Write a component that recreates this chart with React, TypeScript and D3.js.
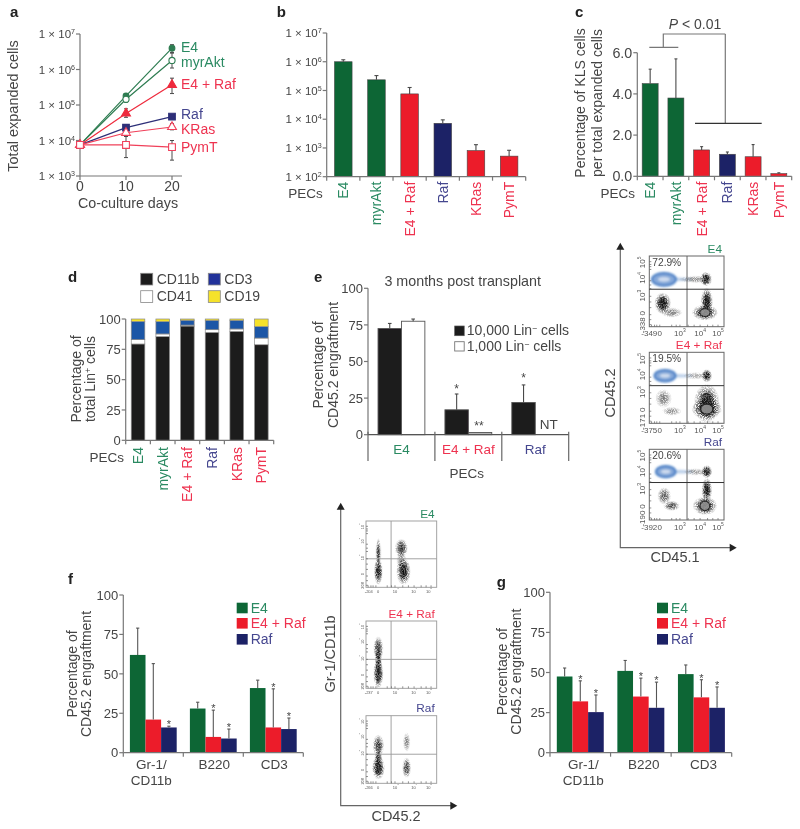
import * as d3 from 'd3'

// ---- data ----
const pecs = ['E4', 'myrAkt', 'E4 + Raf', 'Raf', 'KRas', 'PymT']
const days = [0, 10, 20]

const expandedE4 = [7500, 180000, 4000000]
const expandedAkt = [7500, 145000, 1800000]
const expandedE4Raf = [7500, 58000, 370000]
const expandedRaf = [7500, 23000, 47000]
const expandedKRas = [7500, 16500, 24000]
const expandedPymT = [7500, 7500, 6500]

const expandedLow = [
  [7500, 150000, 3000000],
  [7500, 120000, 1100000],
  [7500, 45000, 210000],
  [7500, 21000, 41000],
  [7500, 13000, 20000],
  [7500, 3300, 2800]
]
const expandedHigh = [
  [7500, 210000, 5000000],
  [7500, 175000, 2900000],
  [7500, 78000, 570000],
  [7500, 26000, 54000],
  [7500, 21000, 30000],
  [7500, 13000, 10000]
]

const totalCells = [1000000, 235000, 76000, 7200, 810, 520]
const totalCellsHigh = [1170000, 330000, 127000, 9500, 1300, 830]

const klsPercent = [4.5, 3.8, 1.28, 1.07, 0.95, 0.13]
const klsHigh = [5.2, 5.7, 1.44, 1.18, 1.54, 0.17]

const lineageKeys = ['CD11b', 'CD41', 'CD3', 'CD19']
const lineageCD11b = [79.4, 85.5, 94.2, 89, 89.8, 78.8]
const lineageCD41 = [3.6, 2.2, 0.8, 2.2, 2, 5.5]
const lineageCD3 = [15, 10.1, 4, 7.7, 7.1, 9.4]
const lineageCD19 = [2, 2.2, 1, 1.1, 1.1, 6.3]

const transplantGroups = ['E4', 'E4 + Raf', 'Raf']
const doseKeys = ['10,000', '1,000']
const dose10000 = [72.5, 17, 22]
const dose10000High = [76, 27.8, 34]
const dose1000 = [77.5, 1.5, null]
const dose1000High = [79, 1.5, null]

const lineageGroups = ['Gr-1/CD11b', 'B220', 'CD3']
const engraftSeries = ['E4', 'E4 + Raf', 'Raf']
const fE4 = [62, 28, 41]
const fE4High = [79, 32, 46]
const fE4Raf = [21, 10, 16]
const fE4RafHigh = [56.5, 27, 40.5]
const fRaf = [16, 9, 15]
const fRafHigh = [16.8, 15, 22]
const fStars = [[false, false, false], [false, true, true], [true, true, true]]

const gE4 = [47.5, 51, 49]
const gE4High = [52.8, 57.5, 54.7]
const gE4Raf = [32, 35, 34.5]
const gE4RafHigh = [44.8, 46.5, 45.5]
const gRaf = [25.3, 28, 28]
const gRafHigh = [36, 44, 41]
const gStars = [[false, false, false], [true, true, true], [true, true, true]]

// flow plot populations: x, y, rx, ry as fractions of the plot box, then darkness
type Blob = [number, number, number, number, number]
const flowE = {
  blue: [0.196, 0.33, 0.16, 0.09],
  blobs: [
    [0.76, 0.325, 0.08, 0.1, 1],
    [0.62, 0.33, 0.22, 0.05, 0.4],
    [0.18, 0.67, 0.11, 0.15, 1],
    [0.3, 0.8, 0.14, 0.07, 0.45],
    [0.77, 0.65, 0.08, 0.2, 1],
    [0.745, 0.8, 0.17, 0.11, 1]
  ] as Blob[]
}
const flowEr = {
  blue: [0.21, 0.33, 0.14, 0.08],
  blobs: [
    [0.77, 0.33, 0.07, 0.09, 1],
    [0.62, 0.33, 0.16, 0.05, 0.3],
    [0.19, 0.65, 0.11, 0.13, 0.45],
    [0.3, 0.83, 0.13, 0.06, 0.4],
    [0.77, 0.72, 0.17, 0.27, 1],
    [0.77, 0.8, 0.2, 0.14, 1]
  ] as Blob[]
}
const flowR = {
  blue: [0.22, 0.316, 0.13, 0.08],
  blobs: [
    [0.77, 0.316, 0.07, 0.09, 1],
    [0.62, 0.32, 0.16, 0.05, 0.35],
    [0.2, 0.66, 0.09, 0.12, 0.6],
    [0.3, 0.8, 0.11, 0.07, 0.65],
    [0.77, 0.575, 0.07, 0.17, 1],
    [0.745, 0.8, 0.16, 0.13, 1]
  ] as Blob[]
}
const flowMidE: Blob[] = [
  [0.175, 0.76, 0.06, 0.2, 1],
  [0.175, 0.48, 0.035, 0.22, 0.8],
  [0.5, 0.41, 0.09, 0.14, 0.8],
  [0.53, 0.76, 0.1, 0.2, 1],
  [0.5, 0.6, 0.07, 0.14, 0.45]
]
const flowMidEr: Blob[] = [
  [0.175, 0.41, 0.07, 0.18, 0.8],
  [0.175, 0.78, 0.07, 0.22, 1],
  [0.175, 0.58, 0.045, 0.2, 1]
]
const flowMidR: Blob[] = [
  [0.175, 0.44, 0.08, 0.16, 0.75],
  [0.175, 0.77, 0.09, 0.17, 1],
  [0.175, 0.62, 0.05, 0.14, 0.85],
  [0.575, 0.39, 0.05, 0.14, 0.45],
  [0.575, 0.77, 0.06, 0.15, 0.8]
]

// ---- styling ----
const FONT = '"Liberation Sans", Arial, sans-serif'
const TEXT = '#454545'
const AXIS = '#777'
const GREEN = '#0b6636'
const RED = '#ec1c2a'
const NAVY = '#1f2166'
const GREEN_T = '#2a8a62'
const RED_T = '#ee3350'
const NAVY_T = '#45468f'
const pecText = [GREEN_T, GREEN_T, RED_T, NAVY_T, RED_T, RED_T]
const pecFill = [GREEN, GREEN, RED, NAVY, RED, RED]
const groupFill = [GREEN, RED, NAVY]

// superscript; whatever text follows it has to come back down with dy
const Sup = ({ children }: any) => <tspan dy={-4} fontSize="0.62em">{children}</tspan>
const AfterSup = ({ children }: any) => <tspan dy={4}>{children}</tspan>

function Vertical({ x, y, anchor = 'middle', size = 14, fill = TEXT, children }: any) {
  return (
    <text transform={`translate(${x},${y}) rotate(-90)`} textAnchor={anchor} fontSize={size} fill={fill}>
      {children}
    </text>
  )
}

function YAxis({ scale, x, ticks, format, size = 14, top }: any) {
  const y0 = top ?? scale.range()[1]
  return (
    <g>
      <line x1={x} x2={x} y1={y0} y2={scale.range()[0]} stroke={AXIS} strokeWidth={1.2} />
      {ticks.map((t: number) => (
        <g key={t}>
          <line x1={x - 4} x2={x} y1={scale(t)} y2={scale(t)} stroke={AXIS} strokeWidth={1.2} />
          <text x={x - 5} y={scale(t) + size * 0.36} textAnchor="end" fontSize={size} fill={TEXT}>
            {format ? format(t) : t}
          </text>
        </g>
      ))}
    </g>
  )
}

function BandAxis({ x0, x1, y, count, tickLength = 4 }: any) {
  const edges = d3.range(count + 1).map(i => x0 + ((x1 - x0) * i) / count)
  return (
    <g>
      <line x1={x0} x2={x1} y1={y} y2={y} stroke={AXIS} strokeWidth={1.2} />
      {edges.map(e => (
        <line key={e} x1={e} x2={e} y1={y} y2={y + tickLength} stroke={AXIS} strokeWidth={1.2} />
      ))}
    </g>
  )
}

const ErrorUp = ({ x, from, to, stroke = '#4a4a4a', cap = 2 }: any) => (
  <g stroke={stroke} strokeWidth={1.1}>
    <line x1={x} x2={x} y1={from} y2={to} />
    <line x1={x - cap} x2={x + cap} y1={to} y2={to} />
  </g>
)

const powerLabel = (t: number) => (
  <>
    1 × 10
    <Sup>{Math.round(Math.log10(t))}</Sup>
  </>
)

function PecLabels({ scale, top, size = 14 }: any) {
  return (
    <g>
      {pecs.map((p, i) => (
        <Vertical key={p} x={scale(p) + scale.bandwidth() / 2 + 5} y={top} anchor="end" fill={pecText[i]} size={size}>
          {p}
        </Vertical>
      ))}
    </g>
  )
}

function PanelA() {
  const x = d3.scaleLinear().domain([0, 20]).range([80, 172])
  const y = d3.scaleLog().domain([1e3, 1e7]).range([176, 34])
  const series = [expandedE4, expandedAkt, expandedE4Raf, expandedRaf, expandedKRas, expandedPymT]
  const colors = ['#2f7d52', '#2f7d52', '#ee2a3c', '#2d2f78', '#f0405a', '#f0405a']
  const line = d3.line<number>().x((_, i) => x(days[i])).y(d => y(d))
  const marks = [d3.symbolCircle, d3.symbolCircle, d3.symbolTriangle, d3.symbolSquare, d3.symbolTriangle, d3.symbolSquare]
  const areas = [26, 30, 34, 44, 34, 46]
  const open = [false, true, false, false, true, true]
  const labelY = [51.7, 66.7, 89, 119, 134.3, 151.7]
  return (
    <g>
      <YAxis scale={y} x={80} ticks={[1e3, 1e4, 1e5, 1e6, 1e7]} format={powerLabel} size={11.5} />
      <line x1={80} x2={182} y1={176} y2={176} stroke={AXIS} strokeWidth={1.2} />
      {days.map(d => (
        <g key={d}>
          <line x1={x(d)} x2={x(d)} y1={176} y2={180} stroke={AXIS} strokeWidth={1.2} />
          <text x={x(d)} y={191} textAnchor="middle" fontSize={14} fill={TEXT}>{d}</text>
        </g>
      ))}
      <text x={128} y={208} textAnchor="middle" fontSize={14.3} fill={TEXT}>Co-culture days</text>
      <Vertical x={18} y={106} size={14.5}>Total expanded cells</Vertical>
      {series.map((s, i) => (
        <path key={i} d={line(s) as string} fill="none" stroke={colors[i]} strokeWidth={1.2} />
      ))}
      {series.map((s, i) =>
        s.map((_, j) =>
          j === 0 ? null : (
            <g key={`${i}-${j}`} stroke="#4a4a4a" strokeWidth={1}>
              <line x1={x(days[j])} x2={x(days[j])} y1={y(expandedLow[i][j])} y2={y(expandedHigh[i][j])} />
              <line x1={x(days[j]) - 2} x2={x(days[j]) + 2} y1={y(expandedLow[i][j])} y2={y(expandedLow[i][j])} />
              <line x1={x(days[j]) - 2} x2={x(days[j]) + 2} y1={y(expandedHigh[i][j])} y2={y(expandedHigh[i][j])} />
            </g>
          )
        )
      )}
      {series.map((s, i) =>
        s.map((v, j) => (
          <path
            key={`${i}-${j}`}
            d={d3.symbol().type(marks[i]).size(areas[i])() as string}
            transform={`translate(${x(days[j])},${y(v)})`}
            fill={open[i] ? '#fff' : colors[i]}
            stroke={colors[i]}
            strokeWidth={1.1}
          />
        ))
      )}
      {pecs.map((p, i) => (
        <text key={p} x={181} y={labelY[i]} fontSize={14} fill={pecText[i]}>{p}</text>
      ))}
    </g>
  )
}

function PanelB() {
  const y = d3.scaleLog().domain([1e2, 1e7]).range([176.7, 33])
  const x = d3.scaleBand().domain(pecs).range([326.7, 525.7]).paddingInner(0.47).paddingOuter(0.235)
  return (
    <g>
      <YAxis scale={y} x={326.7} ticks={[1e2, 1e3, 1e4, 1e5, 1e6, 1e7]} format={powerLabel} size={11.5} />
      {pecs.map((p, i) => (
        <g key={p}>
          <rect x={x(p)} y={y(totalCells[i])} width={x.bandwidth()} height={176.7 - y(totalCells[i])} fill={pecFill[i]} stroke="#444" strokeWidth={0.6} />
          <ErrorUp x={(x(p) as number) + x.bandwidth() / 2} from={y(totalCells[i])} to={y(totalCellsHigh[i])} />
        </g>
      ))}
      <BandAxis x0={326.7} x1={525.7} y={176.7} count={6} />
      <PecLabels scale={x} top={181.7} />
      <text x={322.7} y={198} textAnchor="end" fontSize={13.5} fill={TEXT}>PECs</text>
    </g>
  )
}

function PanelC() {
  const y = d3.scaleLinear().domain([0, 6]).range([176.3, 52.7])
  const x = d3.scaleBand().domain(pecs).range([637.3, 791.7]).paddingInner(0.38).paddingOuter(0.19)
  return (
    <g>
      <YAxis scale={y} x={637.3} ticks={[0, 2, 4, 6]} format={(t: number) => t.toFixed(1)} size={14.3} />
      {pecs.map((p, i) => (
        <g key={p}>
          <rect x={x(p)} y={y(klsPercent[i])} width={x.bandwidth()} height={176.3 - y(klsPercent[i])} fill={pecFill[i]} stroke="#444" strokeWidth={0.6} />
          <ErrorUp x={(x(p) as number) + x.bandwidth() / 2} from={y(klsPercent[i])} to={y(klsHigh[i])} cap={1.5} />
        </g>
      ))}
      <BandAxis x0={637.3} x1={791.7} y={176.3} count={6} />
      <PecLabels scale={x} top={181.7} />
      <text x={635} y={198} textAnchor="end" fontSize={13.5} fill={TEXT}>PECs</text>
      <Vertical x={585} y={103} size={14}>Percentage of KLS cells</Vertical>
      <Vertical x={602} y={103} size={14}>per total expanded cells</Vertical>
      <g fill="none" strokeWidth={1.2}>
        <path d="M649.3,47.3H678.3M663.3,47.3V34H725.3" stroke={AXIS} />
        <path d="M725.3,34V123.3" stroke={AXIS} />
        <path d="M695,123.3H761.7" stroke="#333" />
      </g>
      <text x={695} y={29} textAnchor="middle" fontSize={14} fill={TEXT}>
        <tspan fontStyle="italic">P</tspan> {'< 0.01'}
      </text>
    </g>
  )
}

function PanelD() {
  const y = d3.scaleLinear().domain([0, 100]).range([440.3, 319])
  const x = d3.scaleBand().domain(pecs).range([125.7, 273.7]).paddingInner(0.45).paddingOuter(0.225)
  const rows = pecs.map((p, i) => ({
    pec: p,
    CD11b: lineageCD11b[i],
    CD41: lineageCD41[i],
    CD3: lineageCD3[i],
    CD19: lineageCD19[i]
  }))
  const stacked = d3.stack<any>().keys(lineageKeys)(rows)
  const fills = ['#1c1a1b', '#ffffff', '#1c57a6', '#f5e22c']
  const swatches = [
    { label: 'CD11b', x: 140.7, y: 273.3, fill: fills[0], tx: 156.7, ty: 284 },
    { label: 'CD3', x: 208.3, y: 273.3, fill: '#23329a', tx: 224.3, ty: 284 },
    { label: 'CD41', x: 140.7, y: 290.7, fill: '#fff', tx: 156.7, ty: 301 },
    { label: 'CD19', x: 208.3, y: 290.7, fill: fills[3], tx: 224.3, ty: 301 }
  ]
  return (
    <g>
      {swatches.map(s => (
        <g key={s.label}>
          <rect x={s.x} y={s.y} width={12} height={11.7} fill={s.fill} stroke="#888" strokeWidth={0.8} />
          <text x={s.tx} y={s.ty} fontSize={14} fill={TEXT}>{s.label}</text>
        </g>
      ))}
      <YAxis scale={y} x={125.7} ticks={[0, 25, 50, 75, 100]} size={13} />
      {stacked.map((layer, k) => (
        <g key={layer.key}>
          {layer.map(d => (
            <rect
              key={d.data.pec}
              x={x(d.data.pec)}
              y={y(d[1])}
              width={x.bandwidth()}
              height={y(d[0]) - y(d[1])}
              fill={fills[k]}
              stroke="#8a8a8a"
              strokeWidth={0.7}
            />
          ))}
        </g>
      ))}
      <BandAxis x0={125.7} x1={273.7} y={440.3} count={6} />
      <PecLabels scale={x} top={447} />
      <text x={124} y={462} textAnchor="end" fontSize={13.5} fill={TEXT}>PECs</text>
      <Vertical x={81} y={379} size={14}>Percentage of</Vertical>
      <Vertical x={95} y={379} size={14}>
        total Lin<Sup>+</Sup><AfterSup> cells</AfterSup>
      </Vertical>
    </g>
  )
}

function PanelE() {
  const y = d3.scaleLinear().domain([0, 100]).range([434.7, 288.3])
  const x0 = d3.scaleBand().domain(transplantGroups).range([368, 568.7]).paddingInner(0.3).paddingOuter(0.15)
  const x1 = d3.scaleBand().domain(doseKeys).range([0, x0.bandwidth()])
  const doses = [dose10000, dose1000]
  const highs = [dose10000High, dose1000High]
  const fills = ['#1c1a1b', '#fff']
  const groupColor = [GREEN_T, RED_T, NAVY_T]
  const step = (568.7 - 368) / 3
  return (
    <g>
      <text x={462.7} y={286} textAnchor="middle" fontSize={14.3} fill={TEXT}>3 months post transplant</text>
      <YAxis scale={y} x={368} ticks={[0, 25, 50, 75, 100]} size={13} />
      {transplantGroups.map((g, i) =>
        doses.map((d, k) => {
          const v = d[i]
          if (v == null) return null
          const left = (x0(g) as number) + (x1(doseKeys[k]) as number)
          const hi = highs[k][i] as number
          return (
            <g key={`${g}-${k}`}>
              <rect x={left} y={y(v)} width={x1.bandwidth()} height={434.7 - y(v)} fill={v < 3 ? '#b5b5b5' : fills[k]} stroke="#555" strokeWidth={0.9} />
              {hi > v && <ErrorUp x={left + x1.bandwidth() / 2} from={y(v)} to={y(hi)} cap={1.8} />}
            </g>
          )
        })
      )}
      <line x1={368} x2={568.7} y1={434.7} y2={434.7} stroke="#555" strokeWidth={1.2} />
      {d3.range(4).map(i => (
        <line key={i} x1={368 + i * step} x2={368 + i * step} y1={431.7} y2={461} stroke="#666" strokeWidth={1.2} />
      ))}
      {transplantGroups.map((g, i) => (
        <text key={g} x={(x0(g) as number) + x0.bandwidth() / 2} y={454} textAnchor="middle" fontSize={13.5} fill={groupColor[i]}>{g}</text>
      ))}
      <text x={466.7} y={478} textAnchor="middle" fontSize={13.5} fill={TEXT}>PECs</text>
      <text x={456.7} y={393} textAnchor="middle" fontSize={12} fill={TEXT}>*</text>
      <text x={479} y={430} textAnchor="middle" fontSize={12} fill={TEXT}>**</text>
      <text x={523.6} y={382} textAnchor="middle" fontSize={12} fill={TEXT}>*</text>
      <text x={548.7} y={429} textAnchor="middle" fontSize={13.5} fill={TEXT}>NT</text>
      <rect x={454.7} y={326} width={9.5} height={9.7} fill={fills[0]} stroke="#555" strokeWidth={0.7} />
      <text x={466.7} y={335} fontSize={14} fill={TEXT}>
        10,000 Lin<Sup>−</Sup><AfterSup> cells</AfterSup>
      </text>
      <rect x={454.7} y={341.7} width={9.5} height={9.3} fill="#fff" stroke="#777" strokeWidth={0.9} />
      <text x={466.7} y={350.7} fontSize={14} fill={TEXT}>
        1,000 Lin<Sup>−</Sup><AfterSup> cells</AfterSup>
      </text>
      <Vertical x={323} y={365} size={14}>Percentage of</Vertical>
      <Vertical x={338} y={365} size={14}>CD45.2 engraftment</Vertical>
    </g>
  )
}

function GroupedPanel({ xLeft, xRight, yTop, yBottom, values, highs, stars, padding, legendX, labelX, labelY, nudge }: any) {
  const y = d3.scaleLinear().domain([0, 100]).range([yBottom, yTop])
  const x0 = d3.scaleBand().domain(lineageGroups).range([xLeft, xRight]).paddingInner(padding).paddingOuter(padding / 2)
  const x1 = d3.scaleBand().domain(engraftSeries).range([0, x0.bandwidth()])
  const legendY = [602.7, 618, 634]
  return (
    <g>
      <YAxis scale={y} x={xLeft} ticks={[0, 25, 50, 75, 100]} size={13} />
      {engraftSeries.map((s, k) =>
        lineageGroups.map((g, i) => {
          const left = (x0(g) as number) + (x1(s) as number)
          const mid = left + x1.bandwidth() / 2
          return (
            <g key={`${s}-${g}`}>
              <rect x={left} y={y(values[k][i])} width={x1.bandwidth()} height={yBottom - y(values[k][i])} fill={groupFill[k]} />
              <ErrorUp x={mid} from={y(values[k][i])} to={y(highs[k][i])} stroke="#555" cap={1.6} />
              {stars[k][i] && (
                <text x={mid} y={y(highs[k][i]) + 2} textAnchor="middle" fontSize={11} fill={TEXT}>*</text>
              )}
            </g>
          )
        })
      )}
      <BandAxis x0={xLeft} x1={xRight} y={yBottom} count={3} />
      {lineageGroups.map((g, n) => {
        const cx = (x0(g) as number) + x0.bandwidth() / 2 + nudge[n]
        const parts = g === 'Gr-1/CD11b' ? ['Gr-1/', 'CD11b'] : [g]
        return parts.map((t, i) => (
          <text key={t} x={cx} y={769 + i * 15.5} textAnchor="middle" fontSize={13.5} fill={TEXT}>{t}</text>
        ))
      })}
      {engraftSeries.map((s, k) => (
        <g key={s}>
          <rect x={legendX} y={legendY[k]} width={11} height={10.6} fill={groupFill[k]} />
          <text x={legendX + 14} y={legendY[k] + 10.4} fontSize={14} fill={[GREEN_T, RED_T, NAVY_T][k]}>{s}</text>
        </g>
      ))}
      <Vertical x={labelX} y={labelY} size={14}>Percentage of</Vertical>
      <Vertical x={labelX + 14.3} y={labelY} size={14}>CD45.2 engraftment</Vertical>
    </g>
  )
}

function FlowPlot({ x, y, w, h, title, titleColor, pct, blue, blobs, xLabels, yLabels, box = '#666', small = false }: any) {
  const fx = d3.scaleLinear().domain([0, 1]).range([x, x + w])
  const fy = d3.scaleLinear().domain([0, 1]).range([y, y + h])
  const minor = [0.03, 0.07, 0.1, 0.14, 0.3, 0.36, 0.41, 0.52, 0.6, 0.68, 0.78, 0.85, 0.92]
  const labelSize = small ? 4 : 8
  return (
    <g>
      {blue && (
        <g filter="url(#haze)">
          <ellipse cx={fx(blue[0] + 0.17)} cy={fy(blue[1])} rx={w * 0.2} ry={h * 0.025} fill="#7ea3d6" opacity={0.5} />
          <ellipse cx={fx(blue[0])} cy={fy(blue[1])} rx={w * blue[2]} ry={h * blue[3]} fill="#86a9da" stroke="#4079c2" strokeWidth={2} />
          <ellipse cx={fx(blue[0])} cy={fy(blue[1])} rx={w * blue[2] * 0.55} ry={h * blue[3] * 0.45} fill="#cfdcef" stroke="#6f9ad0" strokeWidth={0.8} />
        </g>
      )}
      <g filter="url(#grain)">
        {blobs.map((b: Blob, i: number) => (
          <ellipse key={i} cx={fx(b[0])} cy={fy(b[1])} rx={w * b[2]} ry={h * b[3]} fill="url(#cloud)" opacity={b[4]} />
        ))}
      </g>
      <g filter="url(#haze)">
        {blobs.map((b: Blob, i: number) => (
          <ellipse key={i} cx={fx(b[0])} cy={fy(b[1])} rx={w * b[2] * 0.5} ry={h * b[3] * 0.6} fill="#111" opacity={b[4] * b[4] * 0.65} />
        ))}
      </g>
      {!small && blobs.slice(-1).map((b: Blob, i: number) => (
        <ellipse key={i} cx={fx(b[0])} cy={fy(b[1])} rx={w * b[2] * 0.4} ry={h * b[3] * 0.5} fill="#999" stroke="#222" strokeWidth={1} opacity={0.85} />
      ))}
      <rect x={x} y={y} width={w} height={h} fill="none" stroke={box} strokeWidth={small ? 0.9 : 1} />
      <line x1={x + w * (small ? 0.355 : 0.505)} x2={x + w * (small ? 0.355 : 0.505)} y1={y} y2={y + h} stroke={box} strokeWidth={small ? 0.9 : 1} />
      <line x1={x} x2={x + w} y1={y + h * (small ? 0.57 : 0.47)} y2={y + h * (small ? 0.57 : 0.47)} stroke={small ? box : '#333'} strokeWidth={small ? 0.9 : 1} />
      {minor.map(m => (
        <line key={m} x1={fx(m)} x2={fx(m)} y1={y + h} y2={y + h - 2} stroke="#666" strokeWidth={0.7} />
      ))}
      {minor.map(m => (
        <line key={m} x1={x} x2={x + 2} y1={fy(m + 0.05)} y2={fy(m + 0.05)} stroke="#666" strokeWidth={0.7} />
      ))}
      {xLabels.map((t: any) => (
        <text key={`${t[0]}-${t[1]}`} x={fx(t[1])} y={y + h + (small ? 6 : 9.5)} textAnchor="middle" fontSize={labelSize} fill="#555">
          {t[0]}
          {t[2] && <Sup>{t[2]}</Sup>}
        </text>
      ))}
      {yLabels.map((t: any) => (
        <Vertical key={`${t[0]}-${t[1]}`} x={x - (small ? 2.5 : 4.5)} y={fy(t[1])} size={labelSize} fill="#555">
          {t[0]}
          {t[2] && <Sup>{t[2]}</Sup>}
        </Vertical>
      ))}
      <text x={x + w - 2} y={y - 3.5} textAnchor="end" fontSize={11.8} fill={titleColor}>{title}</text>
      {pct && <text x={x + 3} y={y + 10} fontSize={10.2} fill={TEXT}>{pct}</text>}
    </g>
  )
}

const ArrowAxes = ({ x, top, bottom, right }: any) => (
  <g>
    <path d={`M${x},${top + 6}V${bottom}H${right - 6}`} fill="none" stroke="#666" strokeWidth={1.2} />
    <path d={`M${x},${top}l-4,7h8z`} fill="#222" />
    <path d={`M${right},${bottom}l-7,-4v8z`} fill="#222" />
  </g>
)

const rightX = (first: string) => [[first, 0.0], ['0', 0.14], ['10', 0.41, '3'], ['10', 0.68, '4'], ['10', 0.92, '5']]
const rightY = (neg: string) => [['10', 0.09, '5'], ['10', 0.31, '4'], ['10', 0.56, '3'], ['0', 0.81], [neg, 0.98]]
const midX = (first: string) => [[first, 0.04], ['0', 0.17], ['10', 0.42, '3'], ['10', 0.68, '4'], ['10', 0.89, '5']]
const midY = [['10', 0.08, '5'], ['10', 0.3, '4'], ['10', 0.55, '3'], ['0', 0.8], ['208', 0.97]]

const letters = [
  ['a', 10, 17],
  ['b', 276.7, 17],
  ['c', 575, 17],
  ['d', 68, 282],
  ['e', 314, 282],
  ['f', 68, 584],
  ['g', 496.7, 586.7]
]

export default function App() {
  return (
    <svg
      width={800}
      height={829}
      viewBox="0 0 800 829"
      fontFamily={FONT}
      style={{ position: 'absolute', left: 0, top: 0, background: '#fff' }}
    >
      <defs>
        <radialGradient id="cloud">
          <stop offset="0%" stopColor="#000" stopOpacity={1} />
          <stop offset="50%" stopColor="#111" stopOpacity={0.8} />
          <stop offset="100%" stopColor="#333" stopOpacity={0.08} />
        </radialGradient>
        <filter id="grain" x="-5%" y="-5%" width="110%" height="110%">
          <feTurbulence type="fractalNoise" baseFrequency="1.1" numOctaves={2} seed={4} result="noise" />
          <feColorMatrix in="noise" type="matrix" values="0 0 0 0 0  0 0 0 0 0  0 0 0 0 0  0 0 0 3.5 -1.1" result="mask" />
          <feComposite in="SourceGraphic" in2="mask" operator="in" />
        </filter>
        <filter id="haze" x="-20%" y="-20%" width="140%" height="140%">
          <feGaussianBlur stdDeviation={1} />
        </filter>
        <filter id="soft" filterUnits="userSpaceOnUse" x={0} y={0} width={800} height={829}>
          <feGaussianBlur stdDeviation={0.35} />
        </filter>
      </defs>
      <g filter="url(#soft)">
        {letters.map(l => (
          <text key={l[0]} x={l[1]} y={l[2]} fontSize={15} fontWeight="bold" fill="#222">{l[0]}</text>
        ))}
        <PanelA />
        <PanelB />
        <PanelC />
        <PanelD />
        <PanelE />
        <GroupedPanel
          xLeft={123.3}
          xRight={303.3}
          yTop={595}
          yBottom={752.7}
          values={[fE4, fE4Raf, fRaf]}
          highs={[fE4High, fE4RafHigh, fRafHigh]}
          stars={fStars}
          padding={0.22}
          legendX={236.7}
          labelX={77}
          labelY={674}
          nudge={[-2, 1, 1]}
        />
        <GroupedPanel
          xLeft={550}
          xRight={731.7}
          yTop={592.3}
          yBottom={752.7}
          values={[gE4, gE4Raf, gRaf]}
          highs={[gE4High, gE4RafHigh, gRafHigh]}
          stars={gStars}
          padding={0.225}
          legendX={657}
          labelX={507}
          labelY={671.7}
          nudge={[3, 3, 2]}
        />

        <FlowPlot x={649.3} y={256} w={74.7} h={70.7} title="E4" titleColor={GREEN_T} pct="72.9%" blue={flowE.blue} blobs={flowE.blobs} xLabels={rightX('-349')} yLabels={rightY('-338')} />
        <FlowPlot x={649.3} y={352.3} w={74.7} h={71} title="E4 + Raf" titleColor={RED_T} pct="19.5%" blue={flowEr.blue} blobs={flowEr.blobs} xLabels={rightX('-375')} yLabels={rightY('-171')} />
        <FlowPlot x={649.3} y={449.3} w={74.7} h={70.7} title="Raf" titleColor={NAVY_T} pct="20.6%" blue={flowR.blue} blobs={flowR.blobs} xLabels={rightX('-392')} yLabels={rightY('-190')} />
        <ArrowAxes x={620.3} top={242.7} bottom={547.7} right={736.7} />
        <Vertical x={615} y={393} size={14.5}>CD45.2</Vertical>
        <text x={675} y={562.3} textAnchor="middle" fontSize={14.5} fill={TEXT}>CD45.1</text>

        <FlowPlot small x={366} y={521} w={70.7} h={66.3} title="E4" titleColor={GREEN_T} blobs={flowMidE} xLabels={midX('-204')} yLabels={midY} box="#999" />
        <FlowPlot small x={366} y={621} w={70.7} h={67.3} title="E4 + Raf" titleColor={RED_T} blobs={flowMidEr} xLabels={midX('-237')} yLabels={midY} box="#999" />
        <FlowPlot small x={366} y={715.7} w={70.7} h={67.6} title="Raf" titleColor={NAVY_T} blobs={flowMidR} xLabels={midX('-266')} yLabels={midY} box="#999" />
        <ArrowAxes x={340.7} top={502.7} bottom={805.7} right={457.3} />
        <Vertical x={335} y={654} size={14.5}>Gr-1/CD11b</Vertical>
        <text x={396} y={821} textAnchor="middle" fontSize={14.5} fill={TEXT}>CD45.2</text>
      </g>
    </svg>
  )
}
